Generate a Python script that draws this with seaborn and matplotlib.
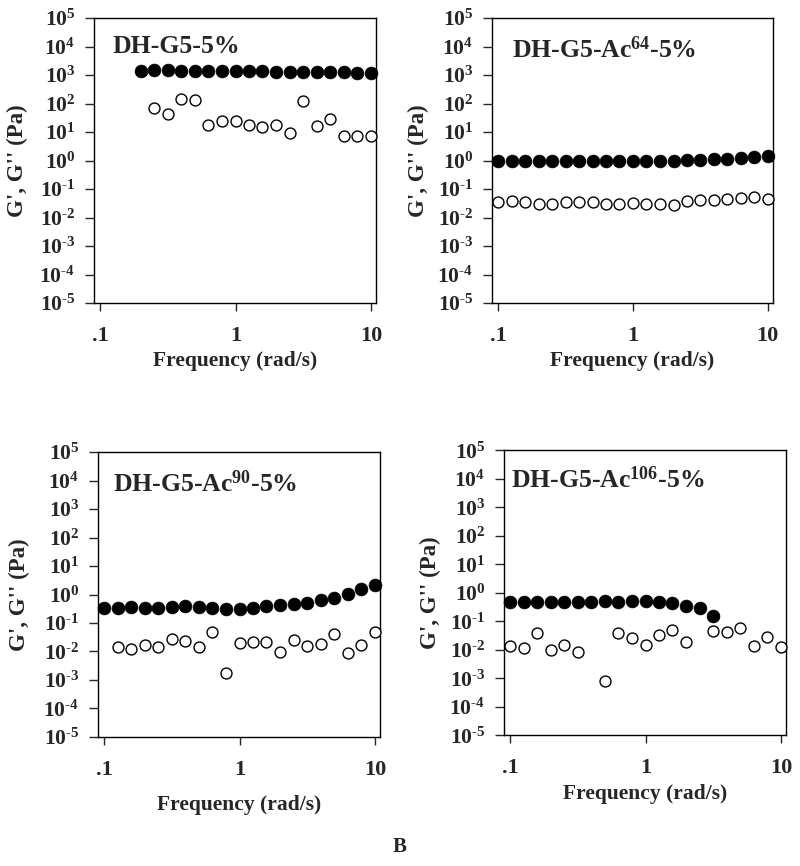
import numpy as np
import pandas as pd
import seaborn as sns
import matplotlib.pyplot as plt
from matplotlib.ticker import FixedLocator, FuncFormatter, NullLocator

nan = np.nan

# angular frequency (rad/s), same sweep for all samples
freq = [0.1, 0.126, 0.158, 0.2, 0.251, 0.316, 0.398, 0.501, 0.631, 0.794,
        1.0, 1.26, 1.58, 2.0, 2.51, 3.16, 3.98, 5.01, 6.31, 7.94, 10.0]

# DH-G5-5%
g1_storage = [nan, nan, nan, 1400, 1550, 1550, 1380, 1420, 1400, 1380, 1380,
              1350, 1350, 1320, 1320, 1300, 1270, 1270, 1250, 1220, 1170]
g1_loss = [nan, nan, nan, nan, 72, 44, 141, 130, 18.5, 25.6, 25,
           18.5, 14.9, 17.5, 9.7, 122, 16.7, 29.4, 7.2, 7.2, 7.5]

# DH-G5-Ac64-5%
g2_storage = [0.95, 0.96, 0.96, 0.96, 0.97, 0.97, 0.97, 0.97, 0.97, 0.98, 0.98,
              0.98, 1.0, 1.0, 1.02, 1.07, 1.1, 1.15, 1.25, 1.35, 1.4]
g2_loss = [0.034, 0.039, 0.034, 0.031, 0.031, 0.034, 0.036, 0.034, 0.029, 0.031, 0.032,
           0.031, 0.030, 0.028, 0.039, 0.041, 0.042, 0.045, 0.049, 0.054, 0.045]

# DH-G5-Ac90-5%
g3_storage = [0.33, 0.33, 0.35, 0.34, 0.34, 0.36, 0.38, 0.35, 0.34, 0.31, 0.32,
              0.34, 0.39, 0.42, 0.47, 0.49, 0.64, 0.77, 1.06, 1.51, 2.14]
g3_loss = [nan, 0.014, 0.012, 0.017, 0.014, 0.027, 0.024, 0.014, 0.048, 0.0018, 0.020,
           0.022, 0.022, 0.0099, 0.025, 0.016, 0.018, 0.042, 0.0089, 0.0165, 0.048]

# DH-G5-Ac106-5%
g4_storage = [0.46, 0.49, 0.49, 0.49, 0.49, 0.49, 0.49, 0.53, 0.46, 0.52, 0.53,
              0.49, 0.45, 0.345, 0.29, 0.154, nan, nan, nan, nan, nan]
g4_loss = [0.0133, 0.0119, 0.039, 0.0101, 0.0148, 0.0086, nan, 0.00077, 0.039, 0.026, 0.0144,
           0.0323, 0.0483, 0.0183, nan, 0.0457, 0.041, 0.0583, 0.0136, 0.028, 0.0129]

titles = ['DH-G5-5%', r'DH-G5-Ac$^{\mathbf{64}}$-5%',
          r'DH-G5-Ac$^{\mathbf{90}}$-5%', r'DH-G5-Ac$^{\mathbf{106}}$-5%']
x_ticks = [0.1, 1, 10]
x_ticklabels = ['.1', '1', '10']
y_exponents = list(range(-5, 6))

sns.set_style('ticks')
plt.rcParams['font.family'] = ['Liberation Serif', 'DejaVu Serif']
plt.rcParams['font.weight'] = 'bold'
plt.rcParams['axes.labelweight'] = 'bold'
plt.rcParams['mathtext.fontset'] = 'custom'
plt.rcParams['mathtext.rm'] = 'Liberation Serif:bold'
plt.rcParams['mathtext.bf'] = 'Liberation Serif:bold'
plt.rcParams['mathtext.it'] = 'Liberation Serif:bold'
plt.rcParams['mathtext.default'] = 'bf'


def pow_label(v, pos):
    e = int(round(np.log10(v)))
    if e < 0:
        return r'$10^{\text{-}%d}$' % abs(e)
    return r'$10^{%d}$' % e


def freq_label(v, pos):
    for t, lab in zip(x_ticks, x_ticklabels):
        if abs(v - t) < 1e-6:
            return lab
    return ''


fig = plt.figure(figsize=(8, 8.66), dpi=100)

# panel boxes, figure fractions
boxes = [(0.1175, 0.650, 0.3525, 0.329),
         (0.615, 0.650, 0.351, 0.329),
         (0.1225, 0.149, 0.3525, 0.329),
         (0.630, 0.151, 0.3525, 0.329)]
title_pos = [(0.067, 0.878), (0.07, 0.862), (0.054, 0.861), (0.024, 0.868)]
xlabel_y = [-0.168, -0.168, -0.205, -0.172]
ylabel_x = [-0.235, -0.225, -0.24, -0.225]

panels = [(g1_storage, g1_loss), (g2_storage, g2_loss),
          (g3_storage, g3_loss), (g4_storage, g4_loss)]

for i, (gp, gpp) in enumerate(panels):
    ax = fig.add_axes(boxes[i])
    df = pd.DataFrame({'freq': freq, 'Gp': gp, 'Gpp': gpp})
    sns.scatterplot(data=df, x='freq', y='Gpp', ax=ax, s=62, color='white',
                    edgecolor='black', linewidth=1.0, clip_on=False, zorder=3)
    sns.scatterplot(data=df, x='freq', y='Gp', ax=ax, s=85, color='black',
                    edgecolor='black', linewidth=0.5, clip_on=False, zorder=4)
    ax.set_xscale('log')
    ax.set_yscale('log')
    ax.set_xlim(0.09, 10.9)
    ax.set_ylim(1e-5, 1e5)
    ax.xaxis.set_major_locator(FixedLocator(x_ticks))
    ax.xaxis.set_major_formatter(FuncFormatter(freq_label))
    ax.yaxis.set_major_locator(FixedLocator([10.0 ** e for e in y_exponents]))
    ax.yaxis.set_major_formatter(FuncFormatter(pow_label))
    ax.xaxis.set_minor_locator(NullLocator())
    ax.yaxis.set_minor_locator(NullLocator())
    ax.tick_params(axis='y', direction='out', length=6.5, width=1, pad=7, labelsize=15.5)
    ax.tick_params(axis='x', direction='out', length=5.5, width=1, pad=11, labelsize=16)
    for sp in ax.spines.values():
        sp.set_linewidth(1.0)
        sp.set_color('black')
    ax.set_xlabel('Frequency (rad/s)', fontsize=15.5, fontweight='bold')
    ax.set_ylabel("G', G'' (Pa)", fontsize=16.5, fontweight='bold')
    ax.xaxis.set_label_coords(0.5, xlabel_y[i])
    ax.yaxis.set_label_coords(ylabel_x[i], 0.5)
    tx, ty = title_pos[i]
    ax.text(tx, ty, titles[i], transform=ax.transAxes, fontsize=18.5,
            fontweight='bold', ha='left', va='baseline')

fig.text(0.5, 0.016, 'B', ha='center', va='baseline', fontsize=15, fontweight='bold')

fig.savefig('out.png', dpi=100, facecolor='white')
